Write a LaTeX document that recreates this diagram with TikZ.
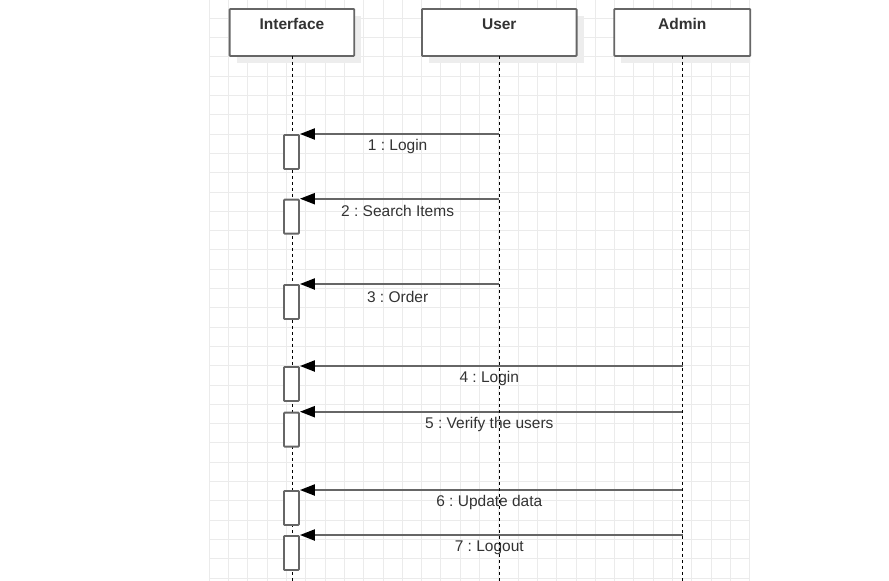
\documentclass[tikz,border=0pt]{standalone}
\usepackage{fontspec}
\setmainfont{Liberation Sans}
\usetikzlibrary{arrows.meta,calc}
\definecolor{gridc}{HTML}{EBEBEB}
\definecolor{shadowc}{HTML}{EDEDED}
\definecolor{boxc}{HTML}{666666}
\definecolor{linec}{HTML}{666666}
\definecolor{txtc}{HTML}{333333}
\tikzset{
  header/.style={draw=boxc, line width=1.9pt, fill=white, rounded corners=0.8pt, anchor=north west, inner sep=0pt},
  headtxt/.style={font=\fontsize{15.5}{18}\selectfont\bfseries, text=txtc, inner sep=0pt},
  lifeline/.style={black, line width=1pt, dash pattern=on 3pt off 3pt},
  actbox/.style={draw=boxc, line width=1.9pt, fill=white, rounded corners=0.8pt, anchor=north west, minimum width=15pt, minimum height=34pt, inner sep=0pt},
  msg/.style={linec, line width=2.1pt, -{Triangle[length=15pt,width=11pt,black]}},
  msglbl/.style={font=\fontsize{15.5}{18}\selectfont\frenchspacing, text=txtc, inner sep=0pt, anchor=center, yshift=-12.5pt, xshift=-2pt},
}
\begin{document}
\frenchspacing
\begin{tikzpicture}[x=1pt,y=-1pt]
\useasboundingbox (0,0) rectangle (889,581);
\fill[white] (0,0) rectangle (889,581);
% grid and shadows
\begin{scope}
\clip (209,0) rectangle (750,581);
\foreach \i in {0,...,28} \draw[gridc, line width=1pt] ({209.3+19.3*\i},0) -- ++(0,581);
\foreach \j in {0,...,29} \draw[gridc, line width=1pt] (209,{18.3+19.3*\j}) -- (750,{18.3+19.3*\j});
\fill[shadowc] (236.7,16) rectangle (361.3,63);
\fill[shadowc] (429,16) rectangle (583.7,63);
\fill[shadowc] (621.3,16) rectangle (757.3,63);
\end{scope}
% headers
\node[header, minimum width=124.6pt, minimum height=47pt] (iface) at (228.7,8) {};
\node[header, minimum width=154.7pt, minimum height=47pt] (user) at (421,8) {};
\node[header, minimum width=136pt, minimum height=47pt] (admin) at (613.3,8) {};
\node[headtxt, anchor=north] (ifaceT) at ($(iface.north)+(0,10.5)$) {Interface};
\node[headtxt, anchor=north] (userT) at ($(user.north)+(0,10.5)$) {User};
\node[headtxt, anchor=north] (adminT) at ($(admin.north)+(0,10.5)$) {Admin};
% lifeline coordinates
\coordinate (iTop) at (292.3,55.8);
\coordinate (iBot) at (292.3,581);
\coordinate (uTop) at (499.3,55.8);
\coordinate (uBot) at (499.3,581);
\coordinate (aTop) at (682.7,55.8);
\coordinate (aBot) at (682.7,581);
\draw[lifeline] (iTop) -- (iBot);
% activation boxes
\node[actbox] (act1) at (283,134) {};
\node[actbox] (act2) at (283,198.7) {};
\node[actbox] (act3) at (283,284) {};
\node[actbox] (act4) at (283,366) {};
\node[actbox] (act5) at (283,411.7) {};
\node[actbox] (act6) at (283,490) {};
\node[actbox] (act7) at (283,535) {};
% message sources
\coordinate (u1) at (499.3,134);
\coordinate (u2) at (499.3,198.7);
\coordinate (u3) at (499.3,284);
\coordinate (a4) at (682.7,366);
\coordinate (a5) at (682.7,411.7);
\coordinate (a6) at (682.7,490);
\coordinate (a7) at (682.7,535);
\draw[msg] (u1) -- node[msglbl] {1 : Login} (act1.north east);
\draw[msg] (u2) -- node[msglbl] {2 : Search Items} (act2.north east);
\draw[msg] (u3) -- node[msglbl] {3 : Order} (act3.north east);
\draw[msg] (a4) -- node[msglbl] {4 : Login} (act4.north east);
\draw[msg] (a5) -- node[msglbl] {5 : Verify the users} (act5.north east);
\draw[msg] (a6) -- node[msglbl] {6 : Update data} (act6.north east);
\draw[msg] (a7) -- node[msglbl] {7 : Logout} (act7.north east);
\draw[lifeline] (uTop) -- (uBot);
\draw[lifeline] (aTop) -- (aBot);
\end{tikzpicture}
\end{document}
